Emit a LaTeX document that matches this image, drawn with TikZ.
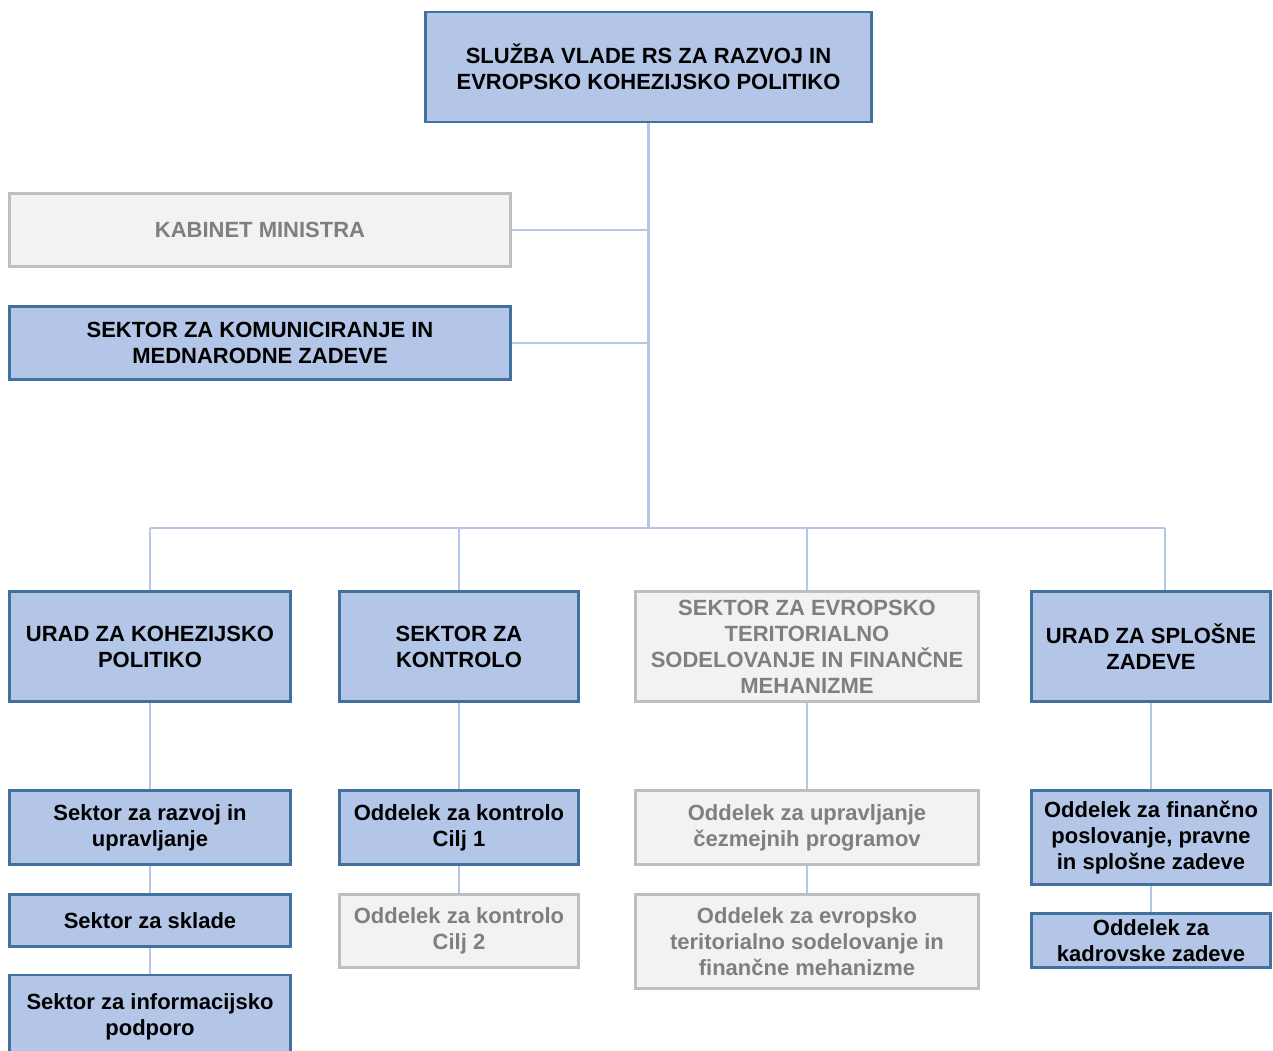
\documentclass[tikz,border=0pt]{standalone}
\usepackage{fontspec}
\setmainfont{Liberation Sans}
\usepackage{xcolor}
\usepackage{tikz}
\usetikzlibrary{backgrounds}
\definecolor{boxfill}{HTML}{B4C6E7}
\definecolor{boxline}{HTML}{41719C}
\definecolor{offfill}{HTML}{F2F2F2}
\definecolor{offline}{HTML}{BFBFBF}
\definecolor{offtext}{HTML}{7F7F7F}
\definecolor{linkcol}{HTML}{B4C7E7}
\tikzset{
  unit/.style={draw=boxline, fill=boxfill, line width=2.6pt, text=black,
    align=center, inner sep=0pt, font=\fontsize{22}{26}\selectfont\bfseries},
  unitoff/.style={unit, draw=offline, fill=offfill, text=offtext},
  link/.style={draw=linkcol, line width=2.3pt},
}
\begin{document}
\begin{tikzpicture}[x=1pt,y=-1pt]
  \useasboundingbox (0,0) rectangle (1273,1050);
  \clip (0,0) rectangle (1273,1050);
  % top
  \node[unit,minimum width=446,minimum height=110] (sluzba) at (648.5,67)
    {SLUŽBA VLADE RS ZA RAZVOJ IN\\EVROPSKO KOHEZIJSKO POLITIKO};
  \node[unitoff,minimum width=501,minimum height=73] (kabinet) at (260,230)
    {KABINET MINISTRA};
  \node[unit,minimum width=501,minimum height=73] (komun) at (260,343)
    {SEKTOR ZA KOMUNICIRANJE IN\\MEDNARODNE ZADEVE};
  % second level
  \node[unit,minimum width=281,minimum height=110] (urad) at (150,646.5)
    {URAD ZA KOHEZIJSKO\\POLITIKO};
  \node[unit,minimum width=239,minimum height=110] (kontrola) at (459,646.5)
    {SEKTOR ZA\\KONTROLO};
  \node[unitoff,minimum width=343,minimum height=110] (teritor) at (807,646.5)
    {SEKTOR ZA EVROPSKO\\TERITORIALNO\\SODELOVANJE IN FINANČNE\\MEHANIZME};
  \node[unit,minimum width=239,minimum height=110] (splosne) at (1151,646.5)
    {URAD ZA SPLOŠNE\\ZADEVE};
  % third level
  \node[unit,minimum width=281,minimum height=74] (razvoj) at (150,827.5)
    {Sektor za razvoj in\\upravljanje};
  \node[unit,minimum width=281,minimum height=52] (sklade) at (150,920.5)
    {Sektor za sklade};
  \node[unit,minimum width=281,minimum height=84] (inform) at (150,1017)
    {Sektor za informacijsko\\podporo};
  \node[unit,minimum width=239,minimum height=74] (cilj1) at (459,827.5)
    {Oddelek za kontrolo\\Cilj 1};
  \node[unitoff,minimum width=239,minimum height=73] (cilj2) at (459,931)
    {Oddelek za kontrolo\\Cilj 2};
  \node[unitoff,minimum width=343,minimum height=74] (cezmejni) at (807,827.5)
    {Oddelek za upravljanje\\čezmejnih programov};
  \node[unitoff,minimum width=343,minimum height=94] (evropsko) at (807,941.5)
    {Oddelek za evropsko\\teritorialno sodelovanje in\\finančne mehanizme};
  \node[unit,minimum width=239,minimum height=94] (financno) at (1151,837.5)
    {Oddelek za finančno\\poslovanje, pravne\\in splošne zadeve};
  \node[unit,minimum width=239,minimum height=54] (kadri) at (1151,940.5)
    {Oddelek za\\kadrovske zadeve};
  % connectors
  \begin{scope}[on background layer]
    \fill[white] (0,0) rectangle (1273,1050);
    \coordinate (hub) at (648.5,528);
    \coordinate (spldrop) at (1165,528);
    \draw[link] (sluzba.south) -- (hub);
    \draw[link] (kabinet.east) -- (kabinet.east -| hub);
    \draw[link] (komun.east) -- (komun.east -| hub);
    \draw[link] (urad.north |- hub) -- (spldrop);
    \foreach \U in {urad,kontrola,teritor}
      \draw[link] (\U.north |- hub) -- (\U.north);
    \draw[link] (spldrop) -- (spldrop |- splosne.north);
    \foreach \A/\B in {urad/razvoj,razvoj/sklade,sklade/inform,kontrola/cilj1,
      cilj1/cilj2,teritor/cezmejni,cezmejni/evropsko,splosne/financno,financno/kadri}
      \draw[link] (\A.south) -- (\B.north);
  \end{scope}
\end{tikzpicture}
\end{document}
